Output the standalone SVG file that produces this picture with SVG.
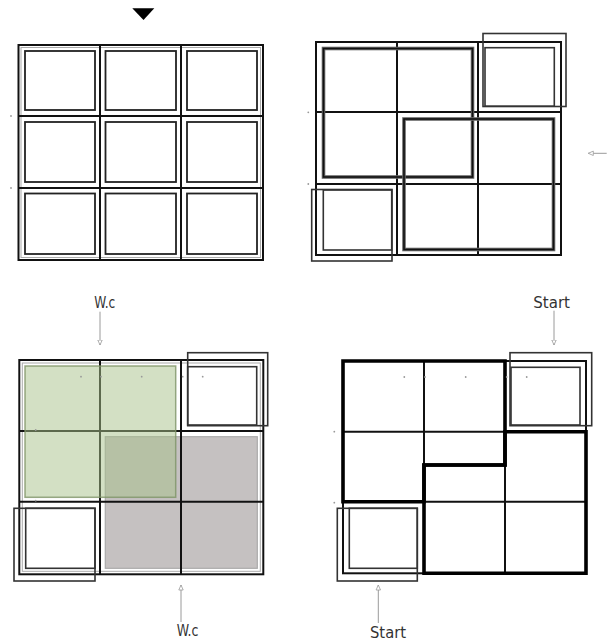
<svg xmlns="http://www.w3.org/2000/svg" width="607" height="644" viewBox="0 0 607 644">
<defs>
<style>
.grid{fill:none;stroke:#111;stroke-width:2}
.fr2{fill:none;stroke:#aaa;stroke-width:1}
.inner{fill:none;stroke:#222;stroke-width:1.8}
.dbl{fill:none;stroke:#666;stroke-width:3.6}
.dbl2{fill:none;stroke:#111;stroke-width:1.6}
.st{fill:none;stroke:#333;stroke-width:1.6}
.thick{fill:none;stroke:#000;stroke-width:3.6;stroke-linejoin:miter}
.conn{stroke:#9a9a9a;stroke-width:1;fill:none;marker-end:url(#ah)}
.lbl{font-family:"DejaVu Sans Condensed","DejaVu Sans",sans-serif;font-size:16px;fill:#333}
.dot{fill:#999}
</style>
<marker id="ah" viewBox="0 0 6 6" refX="5.5" refY="3" markerWidth="6" markerHeight="6" markerUnits="userSpaceOnUse" orient="auto">
<path d="M0.5,0.8 L5.5,3 L0.5,5.2 Z" fill="#fff" stroke="#9a9a9a" stroke-width="0.8"/>
</marker>
</defs>
<rect width="607" height="644" fill="#fff"/>

<polygon id="pointer" points="132.3,8.3 154.3,8.3 143.5,20" fill="#000"/>

<g id="grid-top-left">
<rect class="fr2" x="21" y="47.5" width="239.5" height="210"/>
<rect class="grid" x="18.5" y="45" width="244.5" height="215"/>
<line class="grid" x1="100" y1="45" x2="100" y2="260"/>
<line class="grid" x1="181" y1="45" x2="181" y2="260"/>
<line class="grid" x1="18.5" y1="116" x2="263" y2="116"/>
<line class="grid" x1="18.5" y1="188" x2="263" y2="188"/>
<rect class="inner" x="25" y="51" width="70" height="59"/>
<rect class="inner" x="105.5" y="51" width="70.5" height="59"/>
<rect class="inner" x="187" y="51" width="70" height="59"/>
<rect class="inner" x="25" y="122" width="70" height="60"/>
<rect class="inner" x="105.5" y="122" width="70.5" height="60"/>
<rect class="inner" x="187" y="122" width="70" height="60"/>
<rect class="inner" x="25" y="193.5" width="70" height="60.5"/>
<rect class="inner" x="105.5" y="193.5" width="70.5" height="60.5"/>
<rect class="inner" x="187" y="193.5" width="70" height="60.5"/>
<circle class="dot" cx="11" cy="116" r="0.9"/>
<circle class="dot" cx="11" cy="188" r="0.9"/>
</g>

<g id="grid-top-right">
<rect class="grid" x="316" y="42" width="245" height="213"/>
<line class="grid" x1="397" y1="42" x2="397" y2="255"/>
<line class="grid" x1="478" y1="42" x2="478" y2="255"/>
<line class="grid" x1="316" y1="112" x2="561" y2="112"/>
<line class="grid" x1="316" y1="184" x2="561" y2="184"/>
<rect class="dbl" x="323.5" y="48.5" width="149" height="128.5"/>
<rect class="dbl2" x="323.5" y="48.5" width="149" height="128.5"/>
<rect class="dbl" x="404" y="119" width="149.5" height="130.5"/>
<rect class="dbl2" x="404" y="119" width="149.5" height="130.5"/>
<rect class="st" x="483" y="33.5" width="83" height="73"/>
<rect class="st" x="485" y="47.7" width="69.3" height="58.5"/>
<rect class="st" x="311.7" y="189.5" width="80.3" height="71.5"/>
<rect class="st" x="323.3" y="190" width="68.4" height="60"/>
<circle class="dot" cx="308.3" cy="112.3" r="0.9"/>
<circle class="dot" cx="308.3" cy="184" r="0.9"/>
</g>

<g id="grid-bottom-left">
<rect x="105.3" y="436.7" width="152" height="131.6" fill="#c5c1c1" stroke="#aaa" stroke-width="1.2"/>
<rect class="fr2" x="22.3" y="363" width="238" height="208.3"/>
<rect class="grid" x="19.3" y="360" width="244" height="214.3"/>
<line class="grid" x1="100" y1="360" x2="100" y2="574.3"/>
<line class="grid" x1="181" y1="360" x2="181" y2="574.3"/>
<line class="grid" x1="19.3" y1="431" x2="263.3" y2="431"/>
<line class="grid" x1="19.3" y1="501.7" x2="263.3" y2="501.7"/>
<rect x="25" y="366" width="150.7" height="131.3" fill="#a8c18a" fill-opacity="0.5" stroke="#7e9466" stroke-opacity="0.8" stroke-width="1.5"/>
<rect class="st" x="187.7" y="366.7" width="69" height="58.3"/>
<rect class="st" x="187.7" y="352.7" width="80" height="73"/>
<rect class="st" x="25.7" y="508.3" width="69.3" height="60"/>
<rect class="st" x="14" y="508.3" width="81" height="72.7"/>
<circle class="dot" cx="81" cy="376.7" r="0.9"/>
<circle class="dot" cx="101" cy="376.7" r="0.9"/>
<circle class="dot" cx="141.7" cy="376.7" r="0.9"/>
<circle class="dot" cx="182.7" cy="376.7" r="0.9"/>
<circle class="dot" cx="202.7" cy="376.7" r="0.9"/>
<circle class="dot" cx="35.7" cy="430" r="0.9"/>
<circle class="dot" cx="35.7" cy="500.7" r="0.9"/>
</g>

<g id="grid-bottom-right">
<rect class="grid" x="343" y="361" width="243" height="212.3"/>
<line class="grid" x1="424" y1="361" x2="424" y2="573.3"/>
<line class="grid" x1="505" y1="361" x2="505" y2="573.3"/>
<line class="grid" x1="343" y1="431.7" x2="586" y2="431.7"/>
<line class="grid" x1="343" y1="501.7" x2="586" y2="501.7"/>
<polygon class="thick" points="343,361 505,361 505,465 424,465 424,501.7 343,501.7"/>
<polygon class="thick" points="505,431.7 586,431.7 586,573.3 424,573.3 424,465 505,465"/>
<rect class="st" x="511" y="367.3" width="69" height="57.7"/>
<rect class="st" x="510" y="352.7" width="81.7" height="73"/>
<rect class="st" x="349.3" y="508.3" width="68" height="60"/>
<rect class="st" x="337.3" y="508.3" width="80" height="72.7"/>
<circle class="dot" cx="404.3" cy="377" r="0.9"/>
<circle class="dot" cx="425" cy="377" r="0.9"/>
<circle class="dot" cx="465.7" cy="377" r="0.9"/>
<circle class="dot" cx="506.7" cy="377" r="0.9"/>
<circle class="dot" cx="526.7" cy="377" r="0.9"/>
<circle class="dot" cx="334.3" cy="431.7" r="0.9"/>
<circle class="dot" cx="334.3" cy="502.7" r="0.9"/>
</g>

<g id="connectors">
<line class="conn" x1="100" y1="311.7" x2="100" y2="345"/>
<line class="conn" x1="181" y1="622" x2="181" y2="585"/>
<line class="conn" x1="554" y1="310.7" x2="554" y2="345"/>
<line class="conn" x1="378.3" y1="623" x2="378.3" y2="585"/>
<line class="conn" x1="606.7" y1="153.3" x2="588.3" y2="153.3"/>
</g>

<g id="labels">
<text class="lbl" x="94.3" y="308" textLength="21" lengthAdjust="spacingAndGlyphs">W.c</text>
<text class="lbl" x="176.7" y="636" textLength="21.6" lengthAdjust="spacingAndGlyphs">W.c</text>
<text class="lbl" x="533.3" y="307.7" textLength="36.7" lengthAdjust="spacingAndGlyphs">Start</text>
<text class="lbl" x="370" y="637.5" textLength="36" lengthAdjust="spacingAndGlyphs">Start</text>
</g>
</svg>
